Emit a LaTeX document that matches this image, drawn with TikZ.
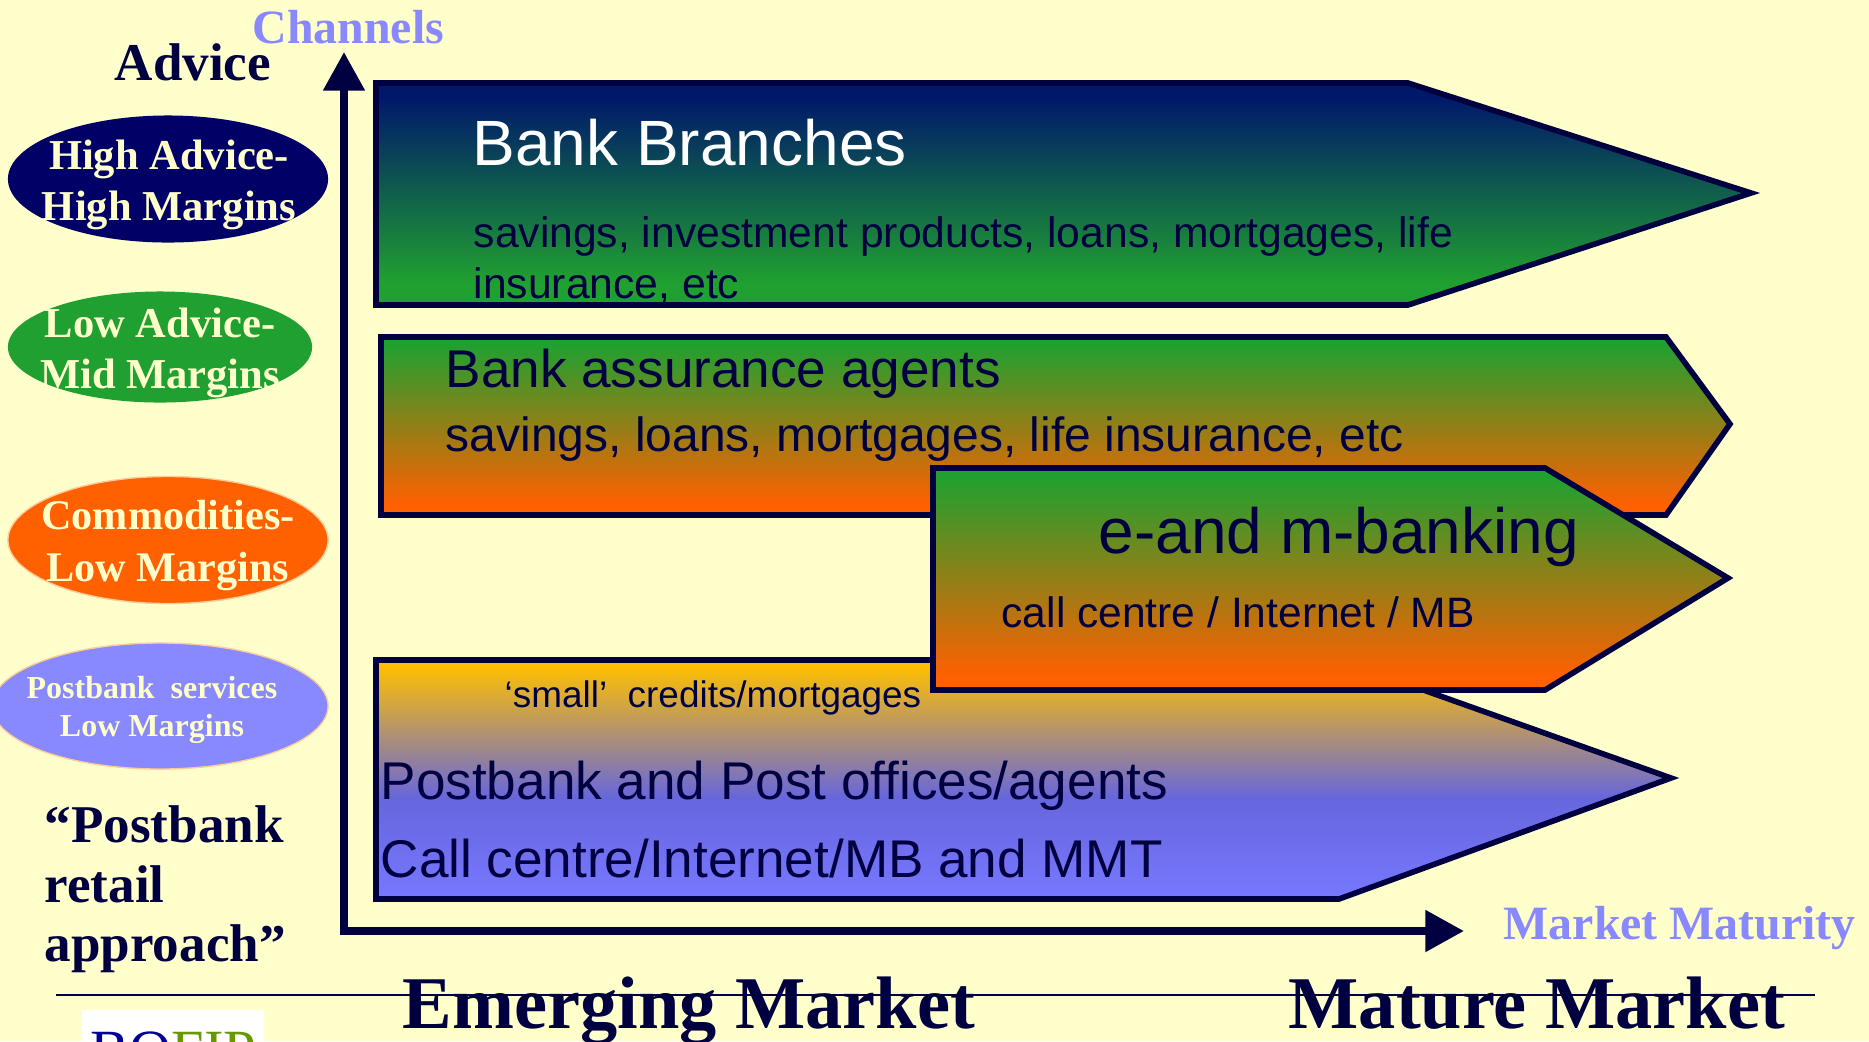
\documentclass[tikz,border=0pt]{standalone}
\usepackage{xcolor}
\usepackage{fontspec}
\setmainfont{Liberation Serif}
\setsansfont{Liberation Sans}
\usetikzlibrary{arrows.meta,shapes.geometric}

\definecolor{paper}{HTML}{FFFFCC}
\definecolor{ink}{HTML}{000040}
\definecolor{deepnavy}{HTML}{000066}
\definecolor{bandtop}{HTML}{00186A}
\definecolor{leaf}{HTML}{20A030}
\definecolor{flame}{HTML}{FF6000}
\definecolor{amber}{HTML}{FFC000}
\definecolor{slate}{HTML}{6666DD}
\definecolor{bandlow}{HTML}{7777FF}
\definecolor{lilac}{HTML}{8888FF}
\definecolor{peach}{HTML}{FFCC99}
\definecolor{brandblue}{HTML}{000099}
\definecolor{brandgreen}{HTML}{669900}

\pgfdeclareverticalshading{branchshade}{100bp}{color(0bp)=(leaf); color(30bp)=(leaf); color(72bp)=(bandtop); color(100bp)=(bandtop)}
\pgfdeclareverticalshading{agentshade}{100bp}{color(0bp)=(flame); color(28bp)=(flame); color(73bp)=(leaf); color(100bp)=(leaf)}
\pgfdeclareverticalshading{postshade}{100bp}{color(0bp)=(bandlow); color(26bp)=(bandlow); color(46bp)=(slate); color(74bp)=(amber); color(100bp)=(amber)}

\tikzset{
	txt/.style = {inner sep=0pt, anchor=base west, text=ink, font=\sffamily\fontsize{#1}{#1}\selectfont},
	head/.style = {inner sep=0pt, anchor=base west, text=ink, font=\bfseries\fontsize{#1}{#1}\selectfont},
	axislabel/.style = {inner sep=0pt, anchor=base west, text=lilac, font=\bfseries\fontsize{#1}{#1}\selectfont},
	band/.style = {draw=ink, line width=1.6pt, miter limit=10},
	oval/.style = {ellipse, inner sep=0pt, minimum width=#1},
	ovaltxt/.style 2 args = {inner sep=0pt, anchor=base, align=center, text=paper, font=\bfseries\fontsize{#1}{#2}\selectfont}
}

\begin{document}
\begin{tikzpicture}[x=0.01cm, y=-0.01cm]
	\useasboundingbox (0,0) rectangle (1869,1041);
	\fill[paper] (0,0) rectangle (1869,1041);

	% channel bands
	\shade[band, shading=branchshade]
		(376,83) -- (1408,83) -- (1751,193) -- (1408,305) -- (376,305) -- cycle;
	\node[txt=18.2, text=white] (branches) at (472,165) {Bank Branches};
	\node[txt=12.13] (branchesa) at (473,247) {savings, investment products, loans, mortgages, life};
	\node[txt=12.13] (branchesb) at (473,298) {insurance, etc};

	\shade[band, shading=agentshade]
		(381,337) -- (1666,337) -- (1730,424) -- (1666,515) -- (381,515) -- cycle;
	\node[txt=15.1] (assurance) at (445,387) {Bank assurance agents};
	\node[txt=13.65] (assurancea) at (445,451) {savings, loans, mortgages, life insurance, etc};

	\shade[band, shading=postshade]
		(376,660) -- (1339,660) -- (1671,778) -- (1339,899) -- (376,899) -- cycle;
	\node[txt=10.5] (small) at (504,707) {‘small’\ \ credits/mortgages};
	\node[txt=15.1] (postbank) at (380,799) {Postbank and Post offices/agents};
	\node[txt=15.1] (callcentre) at (380,877) {Call centre/Internet/MB and MMT};

	\shade[band, shading=agentshade]
		(933,468) -- (1545,468) -- (1728,578) -- (1545,690) -- (933,690) -- cycle;
	\node[txt=18.2] (ebanking) at (1098,553) {e-and m-banking};
	\node[txt=12.1] (ebankinga) at (1001,627) {call centre / Internet / MB};

	% axes
	\coordinate (origin) at (344,931);
	\coordinate (ytip) at (344,52);
	\coordinate (xtip) at (1464,931);
	\draw[ink, line width=2.3pt, {Triangle[length=11pt,width=11.4pt]}-{Triangle[length=11pt,width=11.4pt]}]
		(ytip) -- (origin) -- (xtip);
	\node[axislabel=13.6] (channels) at (252,43) {Channels};
	\node[axislabel=13.6] (maturity) at (1503,939) {Market Maturity};
	\node[head=15.1] (advice) at (114,80) {Advice};

	% advice levels
	\node[oval=3.2cm, minimum height=1.27cm, fill=deepnavy] (high) at (168,179) {};
	\node[ovaltxt={12.1}{14.5}] (hightxt) at (169,220) {High Advice-\\High Margins};
	\node[oval=3.04cm, minimum height=1.11cm, fill=leaf] (low) at (160,347) {};
	\node[ovaltxt={12.1}{14.5}] (lowtxt) at (160,388) {Low Advice-\\Mid Margins};
	\node[oval=3.2cm, minimum height=1.27cm, fill=flame, draw=peach] (commod) at (168,540) {};
	\node[ovaltxt={12}{14.6}] (commodtxt) at (168,581) {Commodities-\\Low Margins};
	\node[oval=3.36cm, minimum height=1.26cm, fill=lilac, draw=peach] (services) at (160,706) {};
	\node[ovaltxt={9.1}{10.8}] (servicestxt) at (152,736) {Postbank\ \ services\\Low Margins};

	\node[head=15.1, anchor=base west, align=left, font=\bfseries\fontsize{15.1}{17.1}\selectfont] (approach) at (44,961) {“Postbank\\retail\\[-0.6pt]approach”};

	% bottom of the slide
	\coordinate (rulea) at (56,995);
	\coordinate (ruleb) at (1815,995);
	\draw[ink, line width=0.6pt] (rulea) -- (ruleb);
	\node[head=21.15] (emerging) at (402,1028) {Emerging Market};
	\node[head=21.15] (mature) at (1288,1028) {Mature Market};
	\fill[white] (82,1010) rectangle (264,1041);
	\node[inner sep=0pt, anchor=base west, font=\fontsize{16.6}{16.6}\selectfont] (logo) at (90,1070)
		{\textcolor{brandblue}{BO}\textcolor{brandgreen}{FIP}};
\end{tikzpicture}
\end{document}
